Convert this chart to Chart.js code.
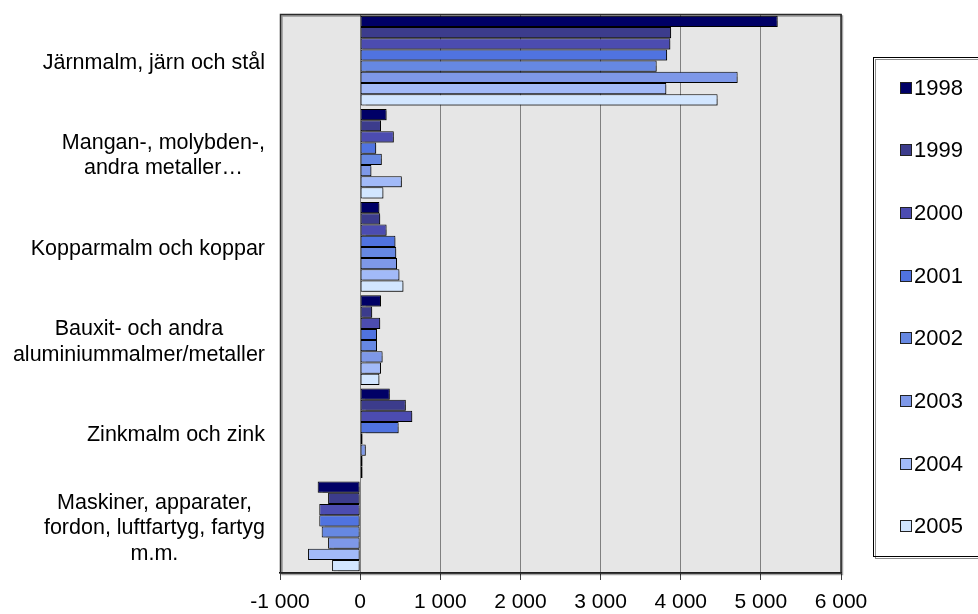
<!DOCTYPE html>
<html>
<head>
<meta charset="utf-8">
<script src="https://cdn.jsdelivr.net/npm/chart.js@4/dist/chart.umd.min.js"></script>
<style>
  html, body { margin: 0; padding: 0; background: #ffffff; }
  #wrap { width: 978px; height: 614px; }
</style>
</head>
<body>
<div id="wrap"><canvas id="chart" width="978" height="614"></canvas></div>
<script>
// Categories (multi-line labels are split into lines)
const categories = [
  ["Järnmalm, järn och stål"],
  ["Mangan-, molybden-,", "andra metaller…"],
  ["Kopparmalm och koppar"],
  ["Bauxit- och andra", "aluminiummalmer/metaller"],
  ["Zinkmalm och zink"],
  ["Maskiner, apparater,", "fordon, luftfartyg, fartyg", "m.m."]
];

const years = ["1998", "1999", "2000", "2001", "2002", "2003", "2004", "2005"];

// Values per year, one entry per category
const v1998 = [5210, 330, 240, 260, 370, -530];
const v1999 = [3880, 260, 250, 150, 570, -400];
const v2000 = [3870, 420, 330, 250, 650, -510];
const v2001 = [3830, 200, 440, 210, 480, -510];
const v2002 = [3700, 270, 450, 210, 30, -480];
const v2003 = [4710, 140, 460, 280, 70, -400];
const v2004 = [3820, 520, 490, 260, 30, -650];
const v2005 = [4460, 290, 540, 240, 30, -350];

// x-axis range and ticks
const xMin = -1000;
const xMax = 6000;
const xStep = 1000;

const seriesValues = [v1998, v1999, v2000, v2001, v2002, v2003, v2004, v2005];
const seriesColors = ["#000066", "#3c3c8c", "#4c4cb0", "#5073e0", "#6688e2", "#7e98e8", "#a2baf8", "#d2e6ff"];

const FONT = "'Liberation Sans', Arial, sans-serif";
const LABEL_SIZE = 21.5;
const TICK_SIZE = 21;
const LEGEND_SIZE = 22;

function fmt(v) {
  const s = Math.abs(v).toString().replace(/\B(?=(\d{3})+(?!\d))/g, " ");
  return (v < 0 ? "-" : "") + s;
}

// Grey plot background
const plotBackground = {
  id: "plotBackground",
  beforeDraw(chart) {
    const { ctx, chartArea: a } = chart;
    ctx.save();
    ctx.fillStyle = "#e6e6e6";
    ctx.fillRect(a.left, a.top, a.right - a.left, a.bottom - a.top);
    ctx.restore();
  }
};

// Drop shadow under the bars
const barShadow = {
  id: "barShadow",
  beforeDatasetsDraw(chart) {
    const ctx = chart.ctx;
    ctx.save();
    ctx.shadowColor = "rgba(0,0,0,0.35)";
    ctx.shadowOffsetX = 2;
    ctx.shadowOffsetY = 2;
    ctx.shadowBlur = 1;
  },
  afterDatasetsDraw(chart) {
    chart.ctx.restore();
  }
};

// Frame round the plot, category labels and legend box
const decorations = {
  id: "decorations",
  afterDraw(chart) {
    const { ctx, chartArea: a } = chart;
    const yScale = chart.scales.y;

    // plot frame
    ctx.save();
    ctx.strokeStyle = "#2a2a2a";
    ctx.lineWidth = 1.5;
    ctx.shadowColor = "rgba(0,0,0,0.35)";
    ctx.shadowOffsetX = 1.5;
    ctx.shadowOffsetY = 1.5;
    ctx.strokeRect(a.left + 0.5, a.top + 0.5, a.right - a.left - 0.5, a.bottom - a.top - 0.5);
    ctx.restore();

    // category labels: block right-aligned, lines centred within block
    ctx.save();
    ctx.font = LABEL_SIZE + "px " + FONT;
    ctx.fillStyle = "#000000";
    ctx.textBaseline = "middle";
    ctx.textAlign = "center";
    const lineH = 25.5;
    const rightEdge = 265;
    chart.data.labels.forEach((lines, i) => {
      const yc = yScale.getPixelForValue(i) + 2;
      let w = 0;
      lines.forEach(l => { w = Math.max(w, ctx.measureText(l).width); });
      const xc = rightEdge - w / 2;
      const y0 = yc - (lines.length - 1) * lineH / 2;
      lines.forEach((l, k) => ctx.fillText(l, xc, y0 + k * lineH));
    });
    ctx.restore();

    // legend box
    ctx.save();
    ctx.strokeStyle = "#000000";
    ctx.lineWidth = 1;
    ctx.shadowColor = "rgba(0,0,0,0.45)";
    ctx.shadowOffsetX = 2;
    ctx.shadowOffsetY = 2;
    ctx.strokeRect(873.5, 57.5, 130, 499);
    ctx.restore();

    ctx.save();
    ctx.font = LEGEND_SIZE + "px " + FONT;
    ctx.textBaseline = "middle";
    ctx.textAlign = "left";
    chart.data.datasets.forEach((ds, i) => {
      const y = 87.5 + i * 62.7;
      ctx.fillStyle = ds.backgroundColor;
      ctx.fillRect(900, Math.round(y - 6), 11, 11);
      ctx.strokeStyle = "#222222";
      ctx.lineWidth = 1;
      ctx.strokeRect(900.5, Math.round(y - 6) + 0.5, 11, 11);
      ctx.fillStyle = "#000000";
      ctx.fillText(ds.label, 914, y + 1);
    });
    ctx.restore();
  }
};

const datasets = years.map((yr, i) => ({
  label: yr,
  data: seriesValues[i],
  backgroundColor: seriesColors[i],
  borderColor: "#000000",
  borderWidth: 1,
  borderSkipped: false,
  barPercentage: 1.0,
  categoryPercentage: 0.962
}));

new Chart(document.getElementById("chart"), {
  type: "bar",
  data: { labels: categories, datasets },
  plugins: [plotBackground, barShadow, decorations],
  options: {
    indexAxis: "y",
    responsive: false,
    animation: false,
    devicePixelRatio: 1,
    layout: { padding: { left: 0, right: 137, top: 14, bottom: 0 } },
    plugins: {
      legend: { display: false },
      tooltip: { enabled: false }
    },
    scales: {
      x: {
        min: xMin,
        max: xMax,
        afterFit(scale) { scale.height = 41; },
        ticks: {
          stepSize: xStep,
          color: "#000000",
          padding: 10,
          font: { family: FONT, size: TICK_SIZE },
          maxRotation: 0,
          callback: (v) => fmt(v)
        },
        grid: {
          color: "#808080",
          lineWidth: 1,
          tickLength: 7,
          tickColor: "#404040"
        },
        border: { display: true, color: "#000000", width: 1.5 }
      },
      y: {
        afterFit(scale) { scale.width = 280; },
        ticks: { display: false },
        grid: { display: false },
        border: { display: false }
      }
    }
  }
});
</script>
</body>
</html>
